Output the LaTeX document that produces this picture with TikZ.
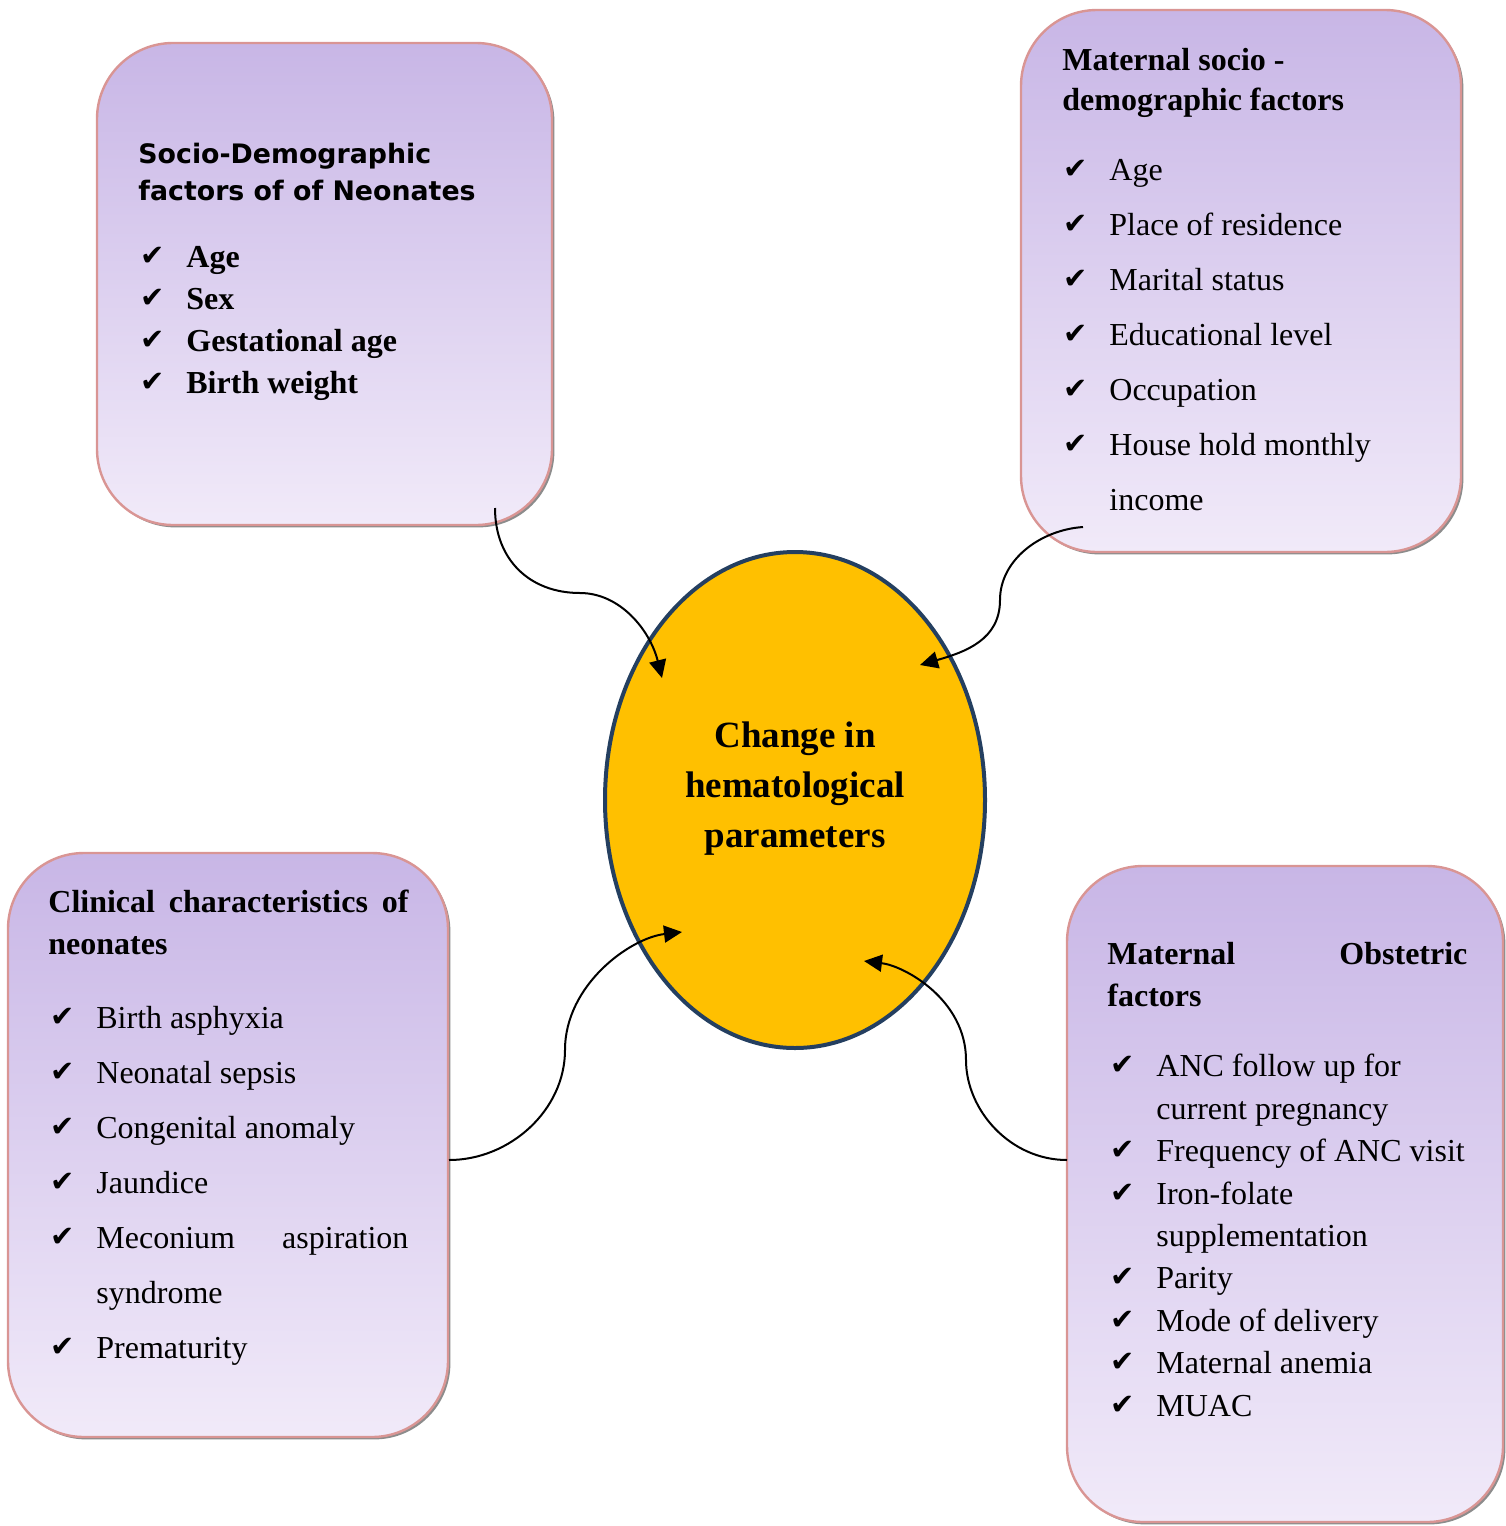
\documentclass[tikz,border=0pt]{standalone}
\usepackage{fontspec}
\setmainfont{Liberation Serif}
\newfontfamily\hsans{DejaVu Sans}
\usetikzlibrary{arrows.meta,shapes.geometric,shadows}
\definecolor{lavtop}{RGB}{200,182,230}
\definecolor{lavbot}{RGB}{241,234,249}
\definecolor{rim}{RGB}{217,149,148}
\definecolor{gold}{RGB}{255,192,0}
\definecolor{navy}{RGB}{36,63,96}
\tikzset{
  grp/.style ={draw=rim,line width=1.2pt,rounded corners=38pt,
               top color=lavtop,bottom color=lavbot,
               drop shadow={shadow xshift=1.2pt,shadow yshift=-1.2pt,
                            fill=black!45,opacity=1}},
  hub/.style ={ellipse,draw=navy,line width=2pt,fill=gold,inner sep=0pt,
               minimum width=190pt,minimum height=248pt},
  hd/.style  ={anchor=north west,inner sep=0pt,align=left,
               font=\fontsize{16}{21}\selectfont\bfseries},
  lst/.style ={anchor=north west,inner sep=0pt,align=left,
               font=\fontsize{16}{27.5}\selectfont},
  ar/.style  ={-{Triangle[length=9pt,width=8.5pt]},line width=1pt},
}
\newcommand{\ck}{\makebox[23pt][l]{\raisebox{1pt}{\hsans\mdseries\fontsize{14.5}{14.5}\selectfont ✔}}}

\begin{document}
\begin{tikzpicture}[x=0.5pt,y=-0.5pt]
\useasboundingbox (0,0) rectangle (1505,1526);

% the four groups of factors
\node[grp,minimum width=227.5pt,minimum height=241pt] (SD) at (324.5,284) {};
\node[grp,minimum width=220pt,minimum height=271pt] (MS) at (1241,281) {};
\node[grp,minimum width=220pt,minimum height=292pt] (CC) at (228,1145) {};
\node[grp,minimum width=218pt,minimum height=328pt] (MO) at (1285,1194) {};

\node[hub] (C) at (795,800) {};
\node[align=center,font=\fontsize{18.5}{25}\selectfont\bfseries] (Ct) at (795,789)
  {Change in\\hematological\\parameters};

\node[hd,font=\hsans\fontsize{13.4}{18.5}\selectfont\bfseries] (SDh) at (138,143)
  {Socio-Demographic\\factors of of Neonates};
\node[lst,font=\fontsize{16}{21}\selectfont\bfseries] (SDl) at (140,246)
  {\ck Age\\\ck Sex\\\ck Gestational age\\\ck Birth weight};

\node[hd,font=\fontsize{16}{20}\selectfont\bfseries] (MSh) at (1062,48)
  {Maternal socio -\\demographic factors};
\node[lst] (MSl) at (1063,159)
  {\ck Age\\\ck Place of residence\\\ck Marital status\\\ck Educational level\\
   \ck Occupation\\\ck House hold monthly\\\hspace*{23pt}income};

\node[hd] (CCh) at (48,890)
  {\makebox[180pt][s]{Clinical characteristics of}\\neonates};
\node[lst] (CCl) at (50,1006)
  {\ck Birth asphyxia\\\ck Neonatal sepsis\\\ck Congenital anomaly\\\ck Jaundice\\
   \ck \makebox[156pt][s]{Meconium aspiration}\\\hspace*{23pt}syndrome\\\ck Prematurity};

\node[hd] (MOh) at (1107,942)
  {\makebox[180pt][s]{Maternal Obstetric}\\factors};
\node[lst,font=\fontsize{16}{21.2}\selectfont] (MOl) at (1110,1054)
  {\ck ANC follow up for\\\hspace*{23pt}current pregnancy\\\ck Frequency of ANC visit\\
   \ck Iron-folate\\\hspace*{23pt}supplementation\\\ck Parity\\\ck Mode of delivery\\
   \ck Maternal anemia\\\ck MUAC};

% curved connectors into the centre
\coordinate (a1) at (495,508);
\coordinate (b1) at (662,678);
\coordinate (a2) at (1083,527);
\coordinate (b2) at (920,665);
\coordinate (a3) at (449,1160);
\coordinate (b3) at (682,932);
\coordinate (a4) at (1067,1160);
\coordinate (b4) at (864,961);

\draw[ar] (a1) .. controls (495,560) and (530,593) .. (580,593)
               .. controls (620,593) and (650,630) .. (b1);
\draw[ar] (a2) .. controls (1040,530) and (1000,560) .. (1000,600)
               .. controls (1000,640) and (965,652) .. (b2);
\draw[ar] (a3) .. controls (510,1160) and (565,1110) .. (565,1050)
               .. controls (565,985) and (630,938) .. (b3);
\draw[ar] (a4) .. controls (1010,1160) and (966,1110) .. (966,1060)
               .. controls (966,1000) and (905,966) .. (b4);
\end{tikzpicture}
\end{document}
